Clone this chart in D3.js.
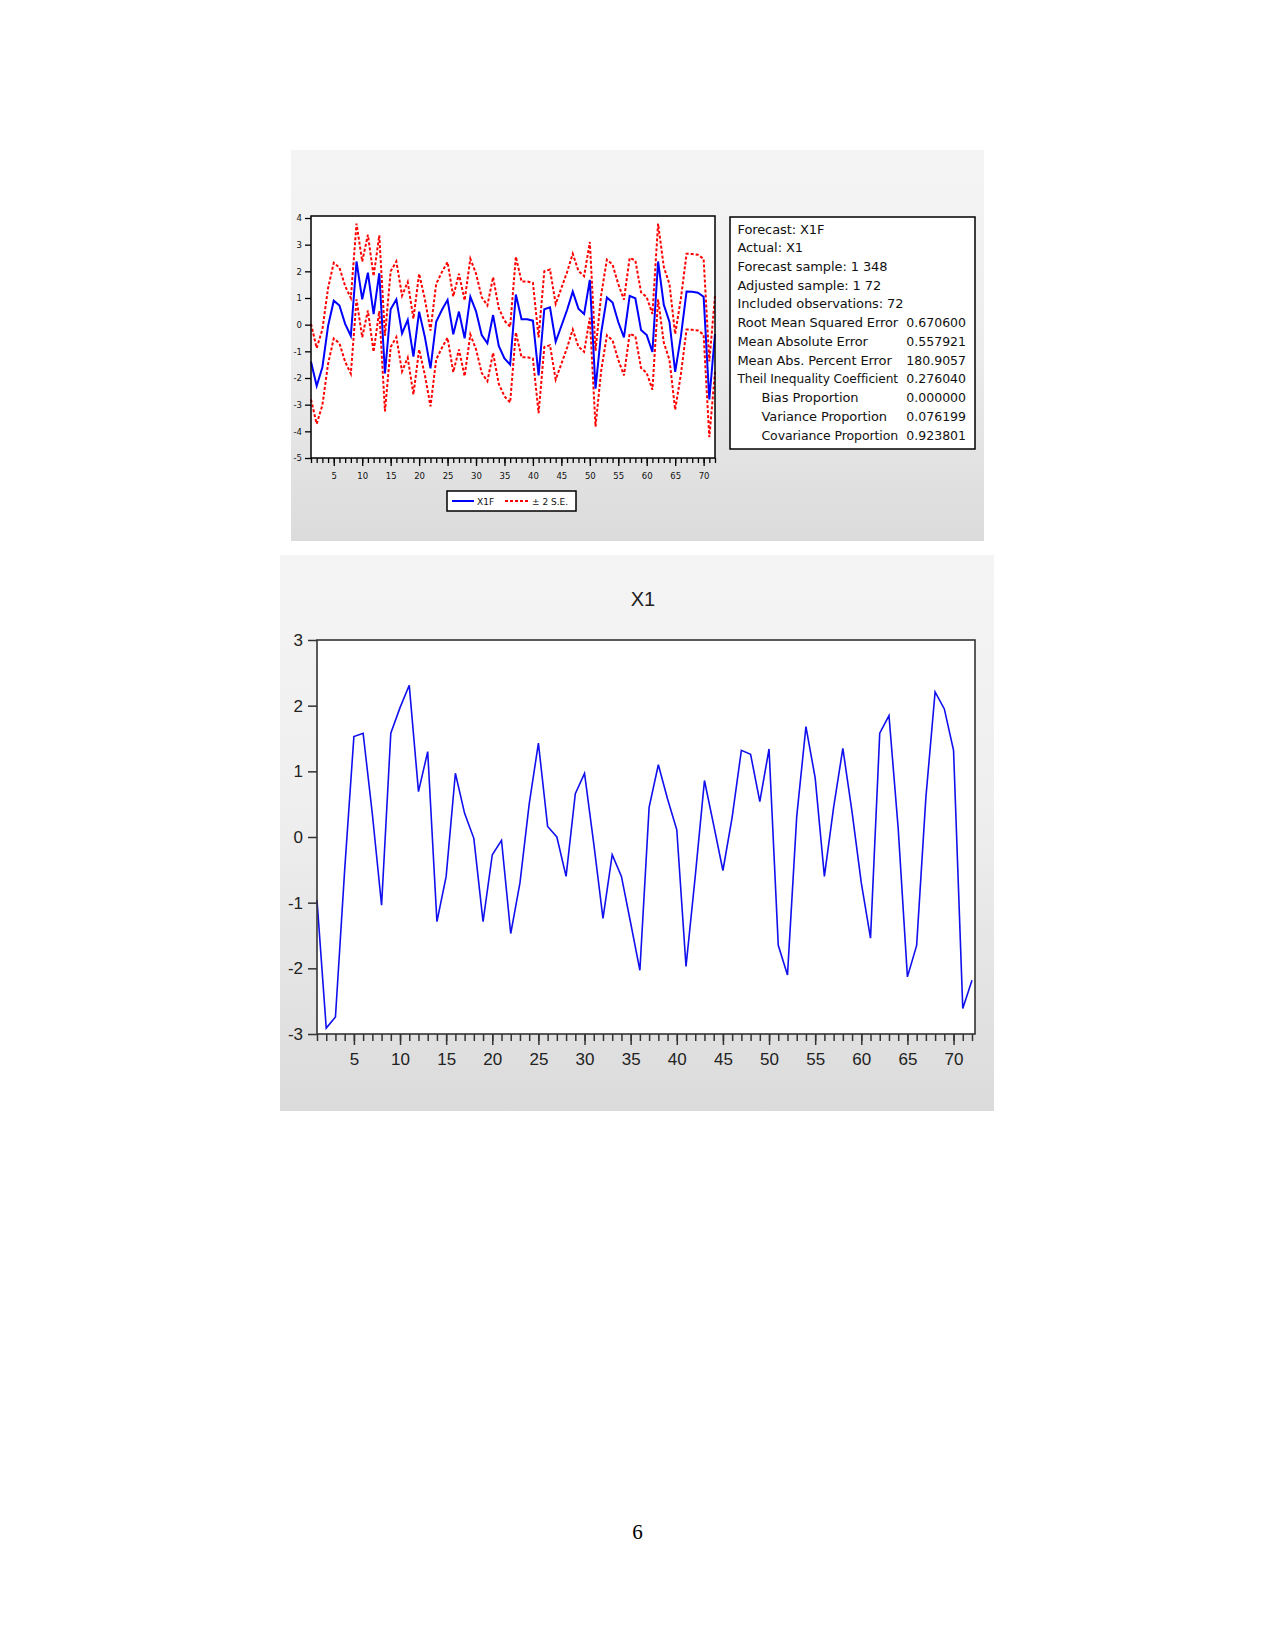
<!DOCTYPE html>
<html><head><meta charset="utf-8">
<script src="https://cdn.jsdelivr.net/npm/d3@7"></script>
<style>body{margin:0;background:#fff} svg{display:block}</style>
</head><body>
<svg id="c" width="1275" height="1650"></svg>
<script>
// ---------- data ----------
const obs = d3.range(1, 73);               // observations 1..72
const xTickLabels = [5,10,15,20,25,30,35,40,45,50,55,60,65,70];
const topYTicks = [-5,-4,-3,-2,-1,0,1,2,3,4];
const botYTicks = [-3,-2,-1,0,1,2,3];

// forecast X1F
const x1f = [-1.39,-2.3,-1.6,-0.05,0.9,0.72,0.03,-0.42,2.37,0.95,
  1.95,0.4,1.93,-1.83,0.58,0.95,-0.33,0.18,-1.2,0.49,
  -0.45,-1.64,0.11,0.55,0.93,-0.36,0.49,-0.51,1.05,0.5,
  -0.39,-0.7,0.36,-0.8,-1.27,-1.5,1.13,0.2,0.2,0.15,
  -1.9,0.58,0.65,-0.64,-0.05,0.55,1.24,0.6,0.4,1.68,
  -2.4,-0.3,1.02,0.83,0.1,-0.48,1.08,0.99,-0.2,-0.39,
  -1.02,2.37,0.75,0.1,-1.77,-0.45,1.24,1.23,1.2,1.05,
  -2.8,-0.35];
// upper band (+2 S.E.)
const upperSE = [0.03,-0.88,-0.18,1.37,2.32,2.14,1.45,1.0,3.79,2.37,
  3.37,1.82,3.35,-0.41,2.0,2.37,1.09,1.6,0.22,1.91,
  0.97,-0.22,1.53,1.97,2.35,1.06,1.91,0.91,2.47,1.92,
  1.03,0.72,1.78,0.62,0.15,-0.08,2.55,1.62,1.62,1.57,
  -0.48,2.0,2.07,0.78,1.37,1.97,2.66,2.02,1.82,3.1,
  -0.98,1.12,2.44,2.25,1.52,0.94,2.5,2.41,1.22,1.03,
  0.4,3.79,2.17,1.52,-0.35,0.97,2.66,2.65,2.62,2.47,
  -1.38,1.07];
// lower band (-2 S.E.)
const lowerSE = [-2.81,-3.72,-3.02,-1.47,-0.52,-0.7,-1.39,-1.84,0.95,-0.47,
  0.53,-1.02,0.51,-3.25,-0.84,-0.47,-1.75,-1.24,-2.62,-0.93,
  -1.87,-3.06,-1.31,-0.87,-0.49,-1.78,-0.93,-1.93,-0.37,-0.92,
  -1.81,-2.12,-1.06,-2.22,-2.69,-2.92,-0.29,-1.22,-1.22,-1.27,
  -3.32,-0.84,-0.77,-2.06,-1.47,-0.87,-0.18,-0.82,-1.02,0.26,
  -3.82,-1.72,-0.4,-0.59,-1.32,-1.9,-0.34,-0.43,-1.62,-1.81,
  -2.44,0.95,-0.67,-1.32,-3.19,-1.87,-0.18,-0.19,-0.22,-0.37,
  -4.22,-1.77];
// actual X1
const x1 = [-0.96,-2.91,-2.74,-0.5,1.53,1.58,0.35,-1.04,1.58,1.97,
  2.31,0.69,1.30,-1.29,-0.6,0.97,0.36,-0.02,-1.29,-0.27,
  -0.05,-1.47,-0.7,0.5,1.43,0.16,0.0,-0.60,0.66,0.97,
  -0.1,-1.24,-0.27,-0.60,-1.31,-2.03,0.45,1.10,0.58,0.11,
  -1.97,-0.6,0.86,0.18,-0.51,0.3,1.32,1.26,0.54,1.34,
  -1.65,-2.10,0.31,1.68,0.9,-0.60,0.45,1.35,0.38,-0.7,
  -1.54,1.58,1.85,0.13,-2.13,-1.65,0.6,2.21,1.95,1.32,
  -2.61,-2.18];

const statLabels = ["Forecast: X1F","Actual: X1","Forecast sample: 1 348","Adjusted sample: 1 72",
  "Included observations: 72","Root Mean Squared Error","Mean Absolute Error",
  "Mean Abs. Percent Error","Theil Inequality Coefficient","Bias Proportion",
  "Variance Proportion","Covariance Proportion"];
const statValues = ["","","","","","0.670600","0.557921","180.9057","0.276040","0.000000","0.076199","0.923801"];
const statIndent = [0,0,0,0,0,0,0,0,0,1,1,1];
const legendLabels = ["X1F","\u00b1 2 S.E."];
const title = "X1";
const pageNumber = "6";

// ---------- drawing ----------
const svg = d3.select('#c');
const defs = svg.append('defs');
const grad = defs.append('linearGradient').attr('id','pg').attr('x1',0).attr('y1',0).attr('x2',0).attr('y2',1);
grad.append('stop').attr('offset','0%').attr('stop-color','#f4f4f4');
grad.append('stop').attr('offset','45%').attr('stop-color','#efefef');
grad.append('stop').attr('offset','100%').attr('stop-color','#dbdbdb');

const hyphen = d => d < 0 ? '-' + Math.abs(d) : String(d);

// panels
svg.append('rect').attr('x',291).attr('y',150).attr('width',693).attr('height',391).attr('fill','url(#pg)');
svg.append('rect').attr('x',280).attr('y',555).attr('width',714).attr('height',556).attr('fill','url(#pg)');

// ===== top chart =====
const xT = d3.scaleLinear().domain([1,72]).range([311,715]);
const yT = d3.scaleLinear().domain([-5,4]).range([458,218]);
svg.append('rect').attr('x',311).attr('y',216).attr('width',404).attr('height',242)
  .attr('fill','#fff');

const lineT = d3.line().x((d,i)=>xT(obs[i])).y(d=>yT(d));
svg.append('path').datum(upperSE).attr('d',lineT).attr('fill','none')
  .attr('stroke','#ff0000').attr('stroke-width',2).attr('stroke-dasharray','3,2');
svg.append('path').datum(lowerSE).attr('d',lineT).attr('fill','none')
  .attr('stroke','#ff0000').attr('stroke-width',2).attr('stroke-dasharray','3,2');
svg.append('path').datum(x1f).attr('d',lineT).attr('fill','none')
  .attr('stroke','#0000ff').attr('stroke-width',2);

svg.append('rect').attr('x',311).attr('y',216).attr('width',404).attr('height',242)
  .attr('fill','none').attr('stroke','#000').attr('stroke-width',1.5);

const fT = 'DejaVu Sans, Verdana, sans-serif';
const gyT = svg.append('g').attr('transform','translate(311,0)')
  .call(d3.axisLeft(yT).tickValues(topYTicks).tickSize(6).tickPadding(3).tickFormat(hyphen));
const gxT1 = svg.append('g').attr('transform','translate(0,458)')
  .call(d3.axisBottom(xT).tickValues(obs).tickSize(5).tickFormat(''));
const gxT2 = svg.append('g').attr('transform','translate(0,458)')
  .call(d3.axisBottom(xT).tickValues(xTickLabels).tickSize(8).tickPadding(7).tickFormat(hyphen));
[gyT,gxT1,gxT2].forEach(g=>{
  g.select('.domain').remove();
  g.selectAll('line').attr('stroke','#000').attr('stroke-width',1.3);
  g.selectAll('text').attr('font-family',fT).attr('font-size',8.5).attr('fill','#111');
});

// legend
svg.append('rect').attr('x',447).attr('y',491).attr('width',129).attr('height',20)
  .attr('fill','#fff').attr('stroke','#000').attr('stroke-width',1.5);
svg.append('line').attr('x1',452).attr('x2',474).attr('y1',501).attr('y2',501)
  .attr('stroke','#0000ff').attr('stroke-width',2);
svg.append('text').attr('x',477).attr('y',504.5).text(legendLabels[0])
  .attr('font-family',fT).attr('font-size',9).attr('fill','#111');
svg.append('line').attr('x1',505).attr('x2',530).attr('y1',501).attr('y2',501)
  .attr('stroke','#ff0000').attr('stroke-width',2).attr('stroke-dasharray','3,2');
svg.append('text').attr('x',532).attr('y',504.5).text(legendLabels[1])
  .attr('font-family',fT).attr('font-size',9).attr('fill','#111');

// stats box
svg.append('rect').attr('x',730).attr('y',217).attr('width',245).attr('height',232)
  .attr('fill','#fff').attr('stroke','#000').attr('stroke-width',1.5);
const sy = d3.scaleLinear().domain([0,11]).range([233.5,439.5]);
const labelEnd = 898;
svg.selectAll('text.sl').data(statLabels).enter().append('text').attr('class','sl')
  .attr('x',(d,i)=>statIndent[i]?761.5:737.5).attr('y',(d,i)=>sy(i)).text(d=>d)
  .attr('font-family',fT).attr('font-size',13).attr('letter-spacing',-0.1).attr('fill','#111')
  .each(function(d,i){
    const x0 = statIndent[i]?761.5:737.5;
    const w = this.getComputedTextLength();
    if (statValues[i] && x0 + w > labelEnd) {
      d3.select(this).attr('textLength',labelEnd - x0).attr('lengthAdjust','spacingAndGlyphs');
    }
  });
svg.selectAll('text.sv').data(statValues).enter().append('text').attr('class','sv')
  .attr('x',966).attr('y',(d,i)=>sy(i)).attr('text-anchor','end').text(d=>d)
  .attr('font-family',fT).attr('font-size',12.5).attr('fill','#111');

// ===== bottom chart =====
const xB = d3.scaleLinear().domain([1,72]).range([317,972]);
const yB = d3.scaleLinear().domain([-3,3]).range([1034,640]);
svg.append('rect').attr('x',317).attr('y',640).attr('width',658).attr('height',394)
  .attr('fill','#fff');
const lineB = d3.line().x((d,i)=>xB(obs[i])).y(d=>yB(d));
svg.append('path').datum(x1).attr('d',lineB).attr('fill','none')
  .attr('stroke','#1010ee').attr('stroke-width',1.6);
svg.append('rect').attr('x',317).attr('y',640).attr('width',658).attr('height',394)
  .attr('fill','none').attr('stroke','#333').attr('stroke-width',1.6);

const fB = 'Liberation Sans, Arial, sans-serif';
const gyB = svg.append('g').attr('transform','translate(317,0)')
  .call(d3.axisLeft(yB).tickValues(botYTicks).tickSize(9).tickPadding(5).tickFormat(hyphen));
const gxB1 = svg.append('g').attr('transform','translate(0,1034)')
  .call(d3.axisBottom(xB).tickValues(obs).tickSize(7).tickFormat(''));
const gxB2 = svg.append('g').attr('transform','translate(0,1034)')
  .call(d3.axisBottom(xB).tickValues(xTickLabels).tickSize(11).tickPadding(8).tickFormat(hyphen));
[gyB,gxB1,gxB2].forEach(g=>{
  g.select('.domain').remove();
  g.selectAll('line').attr('stroke','#333').attr('stroke-width',1.5);
  g.selectAll('text').attr('font-family',fB).attr('font-size',17).attr('fill','#222');
});

svg.append('text').attr('x',643).attr('y',606).attr('text-anchor','middle').text(title)
  .attr('font-family',fB).attr('font-size',20).attr('fill','#222');

// page number
svg.append('text').attr('x',637.5).attr('y',1539).attr('text-anchor','middle').text(pageNumber)
  .attr('font-family','Liberation Serif, Times New Roman, serif').attr('font-size',21).attr('fill','#000');
</script>
</body></html>
